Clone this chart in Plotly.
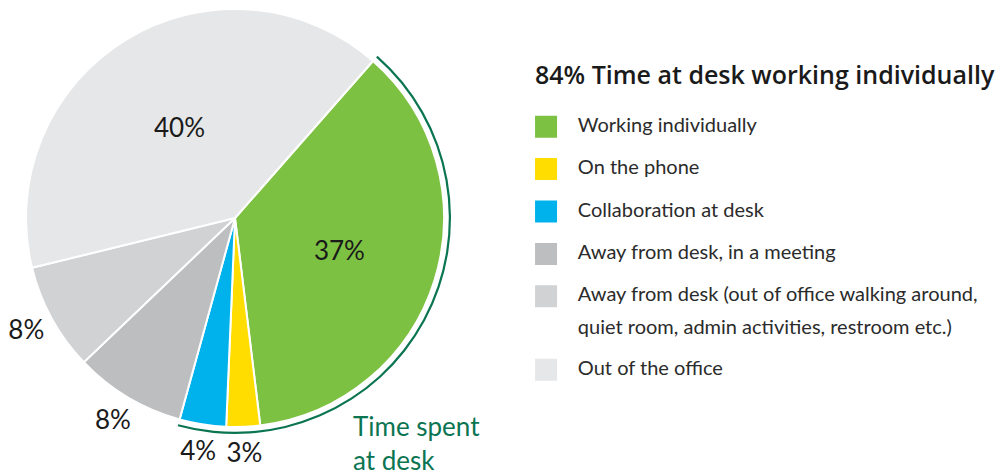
import math
import plotly.graph_objects as go

# ---------------- data ----------------
categories = [
    "Working individually",
    "On the phone",
    "Collaboration at desk",
    "Away from desk, in a meeting",
    "Away from desk (out of office walking around,\nquiet room, admin activities, restroom etc.)",
    "Out of the office",
]
shares = [36.6, 2.6, 3.6, 8.6, 8.3, 40.3]          # slice sizes as drawn
share_labels = ["37%", "3%", "4%", "8%", "8%", "40%"]  # printed values
at_desk = [True, True, True, False, False, False]
legend_title = "84% Time at desk working individually"
arc_label = "Time spent<br>at desk"

colors = ["#7DC142", "#FFDD00", "#00B2EB", "#BCBEC0", "#D1D2D4", "#E6E7E8"]
label_inside = [True, False, False, False, False, True]

W, H = 1003, 470
FONT = "Lato"
DARK = "#1a1a1a"
ARC_GREEN = "#0B7552"

# pie geometry (pixels)
cx, cy, r = 235, 218, 209
r_arc = 216
r_label = 238          # radius at which the outside labels are centred
rotation = 41.3


def clamp(v):
    return min(1.0, max(0.0, v))


def dom(rad):
    return dict(x=[clamp((cx - rad) / W), clamp((cx + rad) / W)],
                y=[clamp(1 - (cy + rad) / H), clamp(1 - (cy - rad) / H)])


fig = go.Figure()

# main pie with the inside labels
fig.add_trace(go.Pie(
    labels=categories, values=shares,
    text=[t if ins else "" for t, ins in zip(share_labels, label_inside)],
    textinfo="text",
    textposition=["inside" if ins else "none" for ins in label_inside],
    insidetextorientation="horizontal",
    sort=False, direction="clockwise", rotation=rotation,
    marker=dict(colors=colors, line=dict(color="white", width=2)),
    textfont=dict(family=FONT, size=26, color=DARK),
    domain=dom(r), showlegend=False,
    hovertext=share_labels, hoverinfo="label+text",
))

# ring arc around the "at desk" slices
desk_total = sum(v for v, d in zip(shares, at_desk) if d)
other_total = sum(v for v, d in zip(shares, at_desk) if not d)
fig.add_trace(go.Pie(
    labels=["at desk", "away"], values=[desk_total, other_total],
    hole=(r_arc - 2.2) / r_arc, sort=False, direction="clockwise",
    rotation=rotation, textinfo="none", hoverinfo="skip",
    marker=dict(colors=[ARC_GREEN, "rgba(0,0,0,0)"], line=dict(width=0)),
    domain=dom(r_arc), showlegend=False,
))

# outside labels: centred on each slice's middle angle, on an overlay axis
# whose origin is the pie centre (units = pixels)
total = sum(shares)
mid_theta, acc = [], 0.0
for v in shares:
    mid_theta.append(math.radians(rotation + (acc + v / 2) / total * 360))
    acc += v
out_idx = [i for i, ins in enumerate(label_inside) if not ins]
fig.add_trace(go.Scatter(
    x=[r_label * math.sin(mid_theta[i]) for i in out_idx],
    y=[r_label * math.cos(mid_theta[i]) for i in out_idx],
    text=[share_labels[i] for i in out_idx],
    mode="text", textposition="middle center", cliponaxis=False,
    textfont=dict(family=FONT, size=26, color=DARK),
    xaxis="x3", yaxis="y3", showlegend=False, hoverinfo="skip",
))

# ---------------- custom legend ----------------
item_rows, line_rows, line_texts = [], [], []
y = 0.0
for cat in categories:
    lines = cat.split("\n")
    item_rows.append(y)
    for j, ln in enumerate(lines):
        line_rows.append(y + j * 0.78)
        line_texts.append(ln)
    y += 1 + 0.73 * (len(lines) - 1)

fig.add_trace(go.Scatter(
    x=[0] * len(categories), y=item_rows, mode="markers",
    marker=dict(symbol="square", size=22, color=colors, line=dict(width=0)),
    xaxis="x2", yaxis="y2", showlegend=False, hoverinfo="skip",
))
fig.add_trace(go.Scatter(
    x=[1.1] * len(line_texts), y=line_rows, mode="text", text=line_texts,
    textposition="middle right",
    textfont=dict(family=FONT, size=20, color="#2b2b2b"),
    xaxis="x2", yaxis="y2", showlegend=False, hoverinfo="skip",
))

row_px = 42.4
row0_px = 126.7
fig.update_layout(
    width=W, height=H,
    margin=dict(l=0, r=0, t=0, b=0, autoexpand=False),
    paper_bgcolor="white", plot_bgcolor="rgba(0,0,0,0)",
    xaxis2=dict(domain=[0.53, 1.0], range=[-0.5, 15.8], visible=False,
                fixedrange=True),
    yaxis2=dict(domain=[0, 1], range=[(H - row0_px) / row_px, -row0_px / row_px],
                visible=False, fixedrange=True),
    xaxis3=dict(domain=[0, 1], range=[-cx, W - cx], visible=False,
                fixedrange=True, anchor="y3"),
    yaxis3=dict(domain=[0, 1], range=[-(H - cy), cy], visible=False,
                fixedrange=True, anchor="x3"),
    annotations=[
        dict(text=legend_title, x=533 / W, y=1 - 74 / H, xref="paper", yref="paper",
             xanchor="left", yanchor="middle", showarrow=False,
             font=dict(family="Open Sans", size=25, weight=600, color=DARK)),
        dict(text=arc_label, x=351 / W, y=1 - 408 / H, xref="paper", yref="paper",
             xanchor="left", yanchor="top", align="left", showarrow=False,
             font=dict(family=FONT, size=26, color=ARC_GREEN)),
    ],
)

fig.write_html("out.html")
